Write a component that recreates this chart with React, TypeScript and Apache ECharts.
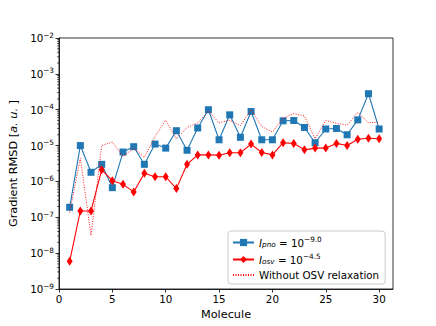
import React, { useEffect, useRef } from "react";
import * as echarts from "echarts";

const molecules = Array.from({ length: 30 }, (_, i) => i + 1);

const pnoValues = [
  1.9e-7, 1.0e-5, 1.8e-6, 3.0e-6, 6.7e-7, 6.6e-6, 9.3e-6, 3.0e-6, 1.1e-5, 8.5e-6,
  2.6e-5, 7.4e-6, 3.1e-5, 1.0e-4, 1.45e-5, 7.2e-5, 1.7e-5, 8.9e-5, 1.45e-5, 1.45e-5,
  4.9e-5, 5.0e-5, 3.2e-5, 1.2e-5, 2.9e-5, 3.0e-5, 2.0e-5, 5.2e-5, 2.8e-4, 2.9e-5,
];

const osvValues = [
  5.9e-9, 1.5e-7, 1.5e-7, 2.1e-6, 1.05e-6, 8.3e-7, 5.1e-7, 1.7e-6, 1.35e-6, 1.35e-6,
  6.3e-7, 3.0e-6, 5.5e-6, 5.5e-6, 5.4e-6, 6.3e-6, 6.3e-6, 1.1e-5, 6.4e-6, 5.5e-6,
  1.2e-5, 1.15e-5, 7.6e-6, 8.5e-6, 8.5e-6, 1.15e-5, 1.0e-5, 1.5e-5, 1.6e-5, 1.55e-5,
];

const noRelaxValues = [
  1.35e-7, 4.5e-6, 3.1e-8, 1.0e-5, 1.26e-5, 4.9e-6, 8.5e-6, 4.7e-6, 1.8e-5, 5.1e-5,
  1.55e-5, 3.2e-5, 4.3e-5, 9.2e-5, 4.3e-5, 5.1e-5, 3.6e-5, 1.0e-4, 3.4e-5, 2.4e-5,
  5.8e-5, 7.8e-5, 6.7e-5, 1.55e-5, 5.0e-5, 4.2e-5, 3.7e-5, 8.5e-5, 4.3e-5, 4.5e-5,
];

const xTicks = [0, 5, 10, 15, 20, 25, 30];
const yMinorTicks: number[] = [];
for (let k = -9; k < -2; k++) {
  for (let m = 2; m <= 9; m++) yMinorTicks.push(m * Math.pow(10, k));
}

const FONT = "DejaVu Sans";
const FS = 10.3;
const SFS = 7.3;

export default function App() {
  const ref = useRef<HTMLDivElement>(null);
  useEffect(() => {
    if (!ref.current) return;
    const chart = echarts.init(ref.current, null, { renderer: "svg" });
    const supRich = {
      b: { fontFamily: FONT, fontSize: FS, color: "#000" },
      s: { fontFamily: FONT, fontSize: SFS, color: "#000", padding: [0, 0, 6, 0] },
    };
    chart.setOption({
      animation: false,
      grid: {
        left: 55,
        right: 43,
        top: 38,
        bottom: 37,
        show: true,
        borderColor: "#000",
        borderWidth: 0.8,
        backgroundColor: "transparent",
      },
      xAxis: {
        type: "value",
        min: 0,
        max: 31.3,
        interval: 5,
        name: "Molecule",
        nameLocation: "middle",
        nameGap: 18,
        nameTextStyle: { fontFamily: FONT, fontSize: 11.3, color: "#000" },
        axisLine: { show: true, onZero: false, lineStyle: { color: "#000", width: 0.8 } },
        axisTick: { show: true, length: 3.5, customValues: xTicks, lineStyle: { color: "#000", width: 0.8 } },
        axisLabel: { customValues: xTicks, margin: 5, fontFamily: FONT, fontSize: FS, color: "#000" },
        splitLine: { show: false },
      },
      yAxis: {
        type: "log",
        logBase: 10,
        min: 1e-9,
        max: 1e-2,
        name: "Gradient RMSD [{it|a. u.} ]",
        nameLocation: "middle",
        nameGap: 40,
        nameTextStyle: {
          fontFamily: FONT,
          fontSize: 11.3,
          color: "#000",
          rich: { it: { fontFamily: FONT, fontSize: 11.3, fontStyle: "italic", color: "#000" } },
        },
        axisLine: { show: true, lineStyle: { color: "#000", width: 0.8 } },
        axisTick: { show: true, length: 3.5, lineStyle: { color: "#000", width: 0.8 } },
        axisLabel: {
          margin: 5,
          formatter: (v: number) => {
            const e = Math.round(Math.log10(v));
            return `{b|10}{s|−${Math.abs(e)}}`;
          },
          rich: supRich,
        },
        splitLine: { show: false },
      },
      legend: {
        left: 228,
        top: 231,
        orient: "vertical",
        backgroundColor: "rgba(255,255,255,0.8)",
        borderColor: "#ccc",
        borderWidth: 1,
        borderRadius: 3,
        padding: [5, 6, 4, 4],
        itemGap: 5,
        itemWidth: 21,
        itemHeight: 9,
        data: ["Ipno", "Iosv", "Without OSV relaxation"],
        formatter: (name: string) => {
          if (name === "Ipno") return "{i|I}{sub|pno}{t| = 10}{sup|−9.0}";
          if (name === "Iosv") return "{i|I}{sub|osv}{t| = 10}{sup|−4.5}";
          return "{t|Without OSV relaxation}";
        },
        textStyle: {
          fontFamily: FONT,
          fontSize: FS,
          color: "#000",
          rich: {
            i: { fontFamily: FONT, fontSize: FS, fontStyle: "italic", color: "#000" },
            sub: { fontFamily: FONT, fontSize: SFS, fontStyle: "italic", color: "#000", padding: [4, 0, 0, 0] },
            t: { fontFamily: FONT, fontSize: FS, color: "#000" },
            sup: { fontFamily: FONT, fontSize: SFS, color: "#000", padding: [0, 0, 6, 0] },
          },
        },
      },
      series: [
        {
          name: "Ipno",
          type: "line",
          data: molecules.map((m, i) => [m, pnoValues[i]]),
          symbol: "rect",
          symbolSize: 7,
          color: "#1f77b4",
          lineStyle: { color: "#1f77b4", width: 1.1 },
          itemStyle: { color: "#1f77b4" },
          z: 3,
        },
        {
          name: "Iosv",
          type: "line",
          data: molecules.map((m, i) => [m, osvValues[i]]),
          symbol: "diamond",
          symbolSize: [6, 9],
          color: "#ff0000",
          lineStyle: { color: "#ff0000", width: 1.1 },
          itemStyle: { color: "#ff0000" },
          z: 4,
        },
        {
          name: "Without OSV relaxation",
          type: "line",
          data: molecules.map((m, i) => [m, noRelaxValues[i]]),
          symbol: "none",
          showSymbol: false,
          color: "#ff0000",
          lineStyle: { color: "#ff0000", width: 0.9, type: [1, 1.5] },
          itemStyle: { color: "#ff0000", opacity: 0 },
          z: 5,
        },
        {
          type: "custom",
          silent: true,
          clip: false,
          data: yMinorTicks.map((v) => [0, v]),
          renderItem: (params: any, api: any) => {
            const p = api.coord([0, api.value(1)]);
            return {
              type: "line",
              shape: { x1: p[0] - 2, y1: p[1], x2: p[0], y2: p[1] },
              style: { stroke: "#000", lineWidth: 0.6 },
            };
          },
          z: 6,
        },
      ],
    });
    return () => chart.dispose();
  }, []);
  return <div ref={ref} style={{ width: 436, height: 326, position: "absolute", left: 0, top: 0 }} />;
}
